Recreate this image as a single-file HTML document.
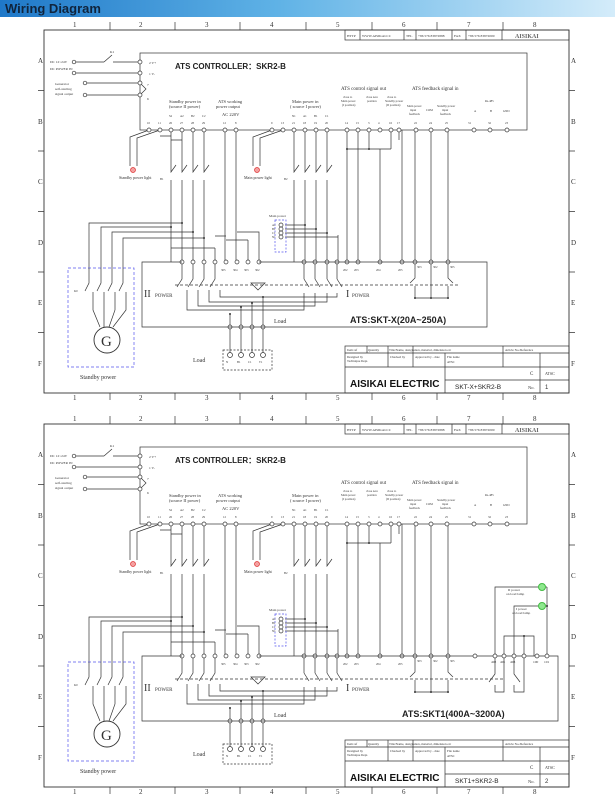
<!DOCTYPE html>
<html><head><meta charset="utf-8"><style>
html,body{margin:0;padding:0;background:#fff;width:615px;height:800px;overflow:hidden}
svg{display:block}
text{font-family:"Liberation Serif",serif;fill:#333}
.s{font-family:"Liberation Sans",sans-serif}
</style></head><body>
<svg width="615" height="800" viewBox="0 0 615 800" xmlns="http://www.w3.org/2000/svg">
<defs>
<linearGradient id="hg" x1="0" x2="1" y1="0" y2="0">
<stop offset="0" stop-color="#1f78c8"/><stop offset="0.45" stop-color="#5fb2e6"/><stop offset="1" stop-color="#d4ecfa"/>
</linearGradient>
<g id="base" fill="none" stroke="#333" stroke-width="0.7">
<rect x="44" y="30" width="525" height="363" stroke-width="0.9"/>
<path d="M110 22V30M175 22V30M240 22V30M306 22V30M372 22V30M437 22V30M503 22V30M110 393V400M175 393V400M240 393V400M306 393V400M372 393V400M437 393V400M503 393V400M38 90.5H44M38 151H44M38 211.5H44M38 272H44M38 332.5H44M569 90.5H575M569 151H575M569 211.5H575M569 272H575M569 332.5H575"/>
<rect x="345" y="30" width="224" height="10"/>
<path d="M360 30V40M404 30V40M416 30V40M452 30V40M466 30V40M502 30V40"/>
<rect x="140" y="53" width="387" height="77"/>
<path d="M76 62H104M104 62L112 55M113 62H140M76 73H140M86 83H140M86 95H140M140 83L146 89L140 95"/>
<g fill="#fff">
<circle cx="74" cy="62" r="1.8"/><circle cx="74" cy="73" r="1.8"/><circle cx="85" cy="83" r="1.8"/><circle cx="85" cy="95" r="1.8"/>
<circle cx="140" cy="62" r="2"/><circle cx="140" cy="73" r="2"/><circle cx="140" cy="83" r="2"/><circle cx="140" cy="95" r="2"/>
</g>
<path d="M149 130L130 137V166M160 130L137 138V166M272 130L253 137V166M283 130L260 138V166"/>
<path d="M171 130V172L176 165M171 180V262M182 130V172L187 165M182 180V262M193 130V172L198 165M193 180V262M204 130V172L209 165M204 180V262"/>
<path d="M171 140H182M171 136H160"/>
<path d="M89 268V223H182M101 268V227H171M112 268V232H193M123 268V238H204"/>
<path d="M215 248V262M171 248H215"/>
<path d="M225 130V262M236 130V262M226 236H215M237 232H259V262M248 240H226M248 240V262"/>
<path d="M294 130V172L299 165M294 180V262M305 130V172L310 165M305 180V262M316 130V172L321 165M316 180V262M327 130V172L332 165M327 180V262M338 235V262"/>
<path d="M285 225H305M285 229H316M285 233H327M285 237H338"/>
<path d="M347 130V262M358 130V262M369 130V149M347 149H391M391 130V149M380 149V262M402 130V262M415 130V262M431 130V262M448 130V262M399 130V140"/>
<path d="M182 262V279L177 287M187 290V310H304V293M193 262V279L188 287M198 290V306H315V293M204 262V279L199 287M209 290V302H327V293M215 262V279L210 287M220 290V297H337V293"/>
<path d="M304 262V279M315 262V279M327 262V279M337 262V279M304 279L309 287M315 279L320 287M327 279L332 287M337 279L342 287"/>
<path d="M175 285H460" stroke-dasharray="3 2"/>
<path d="M251 283H265L258 290Z"/>
<path d="M230 314V327M241 307V327M252 303V327M263 297V327M230 327V355M241 327V355M252 327V355M263 327V355"/>
<path d="M415 262V278L410 283M415 286V298M431 262V298M448 262V278L453 283M448 286V298M415 298H448"/>
<g fill="#fff">
<circle cx="149" cy="130" r="2"/><circle cx="160" cy="130" r="2"/><circle cx="171" cy="130" r="2"/><circle cx="182" cy="130" r="2"/><circle cx="193" cy="130" r="2"/><circle cx="204" cy="130" r="2"/><circle cx="225" cy="130" r="2"/><circle cx="236" cy="130" r="2"/><circle cx="272" cy="130" r="2"/><circle cx="283" cy="130" r="2"/><circle cx="294" cy="130" r="2"/><circle cx="305" cy="130" r="2"/><circle cx="316" cy="130" r="2"/><circle cx="327" cy="130" r="2"/><circle cx="347" cy="130" r="2"/><circle cx="358" cy="130" r="2"/><circle cx="369" cy="130" r="2"/><circle cx="380" cy="130" r="2"/><circle cx="391" cy="130" r="2"/><circle cx="399" cy="130" r="2"/><circle cx="416" cy="130" r="2"/><circle cx="431" cy="130" r="2"/><circle cx="447" cy="130" r="2"/><circle cx="474" cy="130" r="2"/><circle cx="490" cy="130" r="2"/><circle cx="507" cy="130" r="2"/>
<circle cx="182" cy="262" r="2"/><circle cx="193" cy="262" r="2"/><circle cx="204" cy="262" r="2"/><circle cx="215" cy="262" r="2"/><circle cx="226" cy="262" r="2"/><circle cx="237" cy="262" r="2"/><circle cx="248" cy="262" r="2"/><circle cx="259" cy="262" r="2"/><circle cx="304" cy="262" r="2"/><circle cx="315" cy="262" r="2"/><circle cx="327" cy="262" r="2"/><circle cx="337" cy="262" r="2"/><circle cx="347" cy="262" r="2"/><circle cx="358" cy="262" r="2"/><circle cx="380" cy="262" r="2"/><circle cx="402" cy="262" r="2"/><circle cx="415" cy="262" r="2"/><circle cx="431" cy="262" r="2"/><circle cx="448" cy="262" r="2"/>
<circle cx="230" cy="327" r="2"/><circle cx="241" cy="327" r="2"/><circle cx="252" cy="327" r="2"/><circle cx="263" cy="327" r="2"/>
<circle cx="230" cy="355" r="2.5"/><circle cx="241" cy="355" r="2.5"/><circle cx="252" cy="355" r="2.5"/><circle cx="263" cy="355" r="2.5"/>
<circle cx="281" cy="225" r="2"/><circle cx="281" cy="229" r="2"/><circle cx="281" cy="233" r="2"/><circle cx="281" cy="237" r="2"/>
</g>
<g fill="#333" stroke="none">
<circle cx="182" cy="223" r="1"/><circle cx="171" cy="227" r="1"/><circle cx="193" cy="232" r="1"/><circle cx="204" cy="238" r="1"/><circle cx="305" cy="225" r="1"/><circle cx="316" cy="229" r="1"/><circle cx="327" cy="233" r="1"/><circle cx="347" cy="149" r="1"/><circle cx="369" cy="149" r="1"/><circle cx="230" cy="314" r="1"/><circle cx="241" cy="307" r="1"/><circle cx="252" cy="303" r="1"/><circle cx="263" cy="297" r="1"/><circle cx="415" cy="298" r="1"/><circle cx="431" cy="298" r="1"/><circle cx="448" cy="298" r="1"/>
</g>
<circle cx="133" cy="170" r="2.5" fill="#f4a0a0" stroke="#d33"/>
<circle cx="257" cy="170" r="2.5" fill="#f4a0a0" stroke="#d33"/>
<rect x="275" y="220" width="11" height="32" stroke="#55e" stroke-dasharray="2 1.5"/>
<rect x="68" y="268" width="66" height="99" stroke="#55e" stroke-dasharray="3 2"/>
<path d="M89 268V283L85 291M93 292V310L100 327M101 268V283L97 291M104 292V310L104 327M112 268V283L108 291M115 292V310L109 327M123 268V283L119 291M126 292V310L113 327"/>
<circle cx="107" cy="340" r="13" stroke-width="0.9"/>
<rect x="223" y="350" width="49" height="20" stroke-dasharray="2 1.5"/>
<rect x="345" y="346" width="224" height="47"/>
<path d="M345 353H569M345 367H569M445 380H569M367 346V353M388 346V367M413 346V367M445 353V393M503 346V367M540 353V393"/>
</g>
</defs>

<rect x="0" y="0" width="615" height="17" fill="url(#hg)"/>
<text x="5" y="13" class="s" style="font-size:13px;font-weight:bold;fill:#10243c">Wiring Diagram</text>

<use href="#base"/>
<use href="#base" y="394"/>

<g fill="none" stroke="#333" stroke-width="0.7">
<path d="M259 262H487V327H142V262H182"/>
<path d="M259 656H558V721H142V656H182"/>
<path d="M495 656V587H538M514 656V606H538M547 656V587M546 587H547M546 606H547"/>
<path d="M504 656V636H534V656M524 636V656"/>
<path d="M495 656V674L489 682M495 685V692H504V656M514 656V674L520 682M514 685V692H524V656"/>
<path d="M460 679H505" stroke-dasharray="3 2"/>
</g>
<g fill="#fff" stroke="#333" stroke-width="0.7">
<circle cx="475" cy="656" r="2"/><circle cx="495" cy="656" r="2"/><circle cx="504" cy="656" r="2"/><circle cx="514" cy="656" r="2"/><circle cx="524" cy="656" r="2"/><circle cx="537" cy="656" r="2"/><circle cx="547" cy="656" r="2"/>
</g>
<circle cx="524" cy="636" r="1" fill="#333"/>
<circle cx="547" cy="606" r="1" fill="#333"/>
<circle cx="542" cy="587" r="3.5" fill="#8ee88e" stroke="#4b4"/>
<circle cx="542" cy="606" r="3.5" fill="#8ee88e" stroke="#4b4"/>

<g id="t1">
<g style="font-size:7px;fill:#222" class="s">
<text x="73" y="27">1</text><text x="139" y="27">2</text><text x="205" y="27">3</text><text x="270" y="27">4</text><text x="336" y="27">5</text><text x="402" y="27">6</text><text x="467" y="27">7</text><text x="533" y="27">8</text>
<text x="73" y="400">1</text><text x="139" y="400">2</text><text x="205" y="400">3</text><text x="270" y="400">4</text><text x="336" y="400">5</text><text x="402" y="400">6</text><text x="467" y="400">7</text><text x="533" y="400">8</text>
<text x="38" y="63">A</text><text x="38" y="124">B</text><text x="38" y="184">C</text><text x="38" y="245">D</text><text x="38" y="305">E</text><text x="38" y="366">F</text>
<text x="571" y="63">A</text><text x="571" y="124">B</text><text x="571" y="184">C</text><text x="571" y="245">D</text><text x="571" y="305">E</text><text x="571" y="366">F</text>
</g>
<g style="font-size:3.5px" class="s"><text x="347" y="37">HTTP</text><text x="362" y="37">WWW.AISIKAI.CC</text><text x="406" y="37">TEL</text><text x="418" y="37">+86 576 83872888</text><text x="454" y="37">FAX</text><text x="468" y="37">+86 576 83872000</text><text x="515" y="38" style="font-size:6px;font-weight:bold;fill:#666">AISIKAI</text></g>
<text x="175" y="69" class="s" style="font-size:8px;font-weight:bold;fill:#222">ATS CONTROLLER：SKR2-B</text>
<g style="font-size:3.5px"><text x="50" y="63">DC 12~24V</text><text x="50" y="70">DC POWER IN</text><text x="55" y="85">Generator</text><text x="55" y="90">self-starting</text><text x="55" y="95">signal output</text>
<text x="149" y="64">2 V+</text><text x="149" y="75">1 V-</text><text x="147" y="86">7</text><text x="147" y="100">6</text><text x="110" y="53">K1</text></g>
<g style="font-size:4.5px">
<text x="169" y="103">Standby power in</text><text x="169" y="108">(source II power)</text>
<text x="218" y="103">ATS working</text><text x="216" y="108">power output</text><text x="222" y="116">AC 220V</text>
<text x="292" y="103">Main power in</text><text x="290" y="108">( source I power)</text>
<text x="341" y="90" style="font-size:5px">ATS control signal out</text><text x="412" y="90" style="font-size:5px">ATS feedback signal in</text>
</g>
<g style="font-size:3px">
<text x="343" y="98">close to</text><text x="341" y="102">Main power</text><text x="342" y="106">(I position)</text>
<text x="366" y="98">close zero</text><text x="367" y="102">position</text>
<text x="387" y="98">close to</text><text x="385" y="102">Standby power</text><text x="386" y="106">(II position)</text>
<text x="407" y="107">Main power</text><text x="410" y="111">input</text><text x="409" y="115">feedback</text><text x="426" y="111">COM</text>
<text x="437" y="107">Standby power</text><text x="442" y="111">input</text><text x="440" y="115">feedback</text><text x="485" y="102">Rs-485</text>
<text x="474" y="112">A</text><text x="490" y="112">B</text><text x="503" y="112">GND</text>
<text x="147" y="124">10</text><text x="158" y="124">11</text><text x="169" y="124">26</text><text x="180" y="124">27</text><text x="191" y="124">28</text><text x="202" y="124">29</text><text x="223" y="124">12</text><text x="235" y="124">8</text><text x="271" y="124">9</text><text x="281" y="124">13</text><text x="292" y="124">21</text><text x="303" y="124">18</text><text x="314" y="124">19</text><text x="325" y="124">20</text><text x="345" y="124">14</text><text x="356" y="124">15</text><text x="368" y="124">3</text><text x="378" y="124">4</text><text x="389" y="124">16</text><text x="397" y="124">17</text><text x="414" y="124">22</text><text x="429" y="124">24</text><text x="445" y="124">25</text><text x="468" y="124">31</text><text x="488" y="124">32</text><text x="505" y="124">23</text>
<text x="169" y="117">S2</text><text x="180" y="117">A2</text><text x="191" y="117">B2</text><text x="202" y="117">C2</text><text x="292" y="117">N1</text><text x="303" y="117">A1</text><text x="314" y="117">B1</text><text x="325" y="117">C1</text>
<text x="221" y="271">305</text><text x="233" y="271">304</text><text x="244" y="271">303</text><text x="255" y="271">302</text><text x="343" y="271">202</text><text x="354" y="271">203</text><text x="376" y="271">204</text><text x="398" y="271">205</text><text x="417" y="268">303</text><text x="433" y="268">302</text><text x="450" y="268">305</text>
<text x="226" y="363">N</text><text x="237" y="363">B1</text><text x="248" y="363">C1</text><text x="259" y="363">T1</text>
<text x="272" y="226">A1</text><text x="272" y="230">B1</text><text x="272" y="234">C1</text><text x="272" y="238">N1</text><text x="160" y="180">B1</text><text x="284" y="180">B2</text><text x="74" y="292">K0</text>
</g>
<text x="119" y="179" style="font-size:4px">Standby power light</text>
<text x="244" y="179" style="font-size:4px">Main power light</text>
<text x="269" y="217" style="font-size:3.5px">Main power</text>
<text x="144" y="297" style="font-size:10px">II</text><text x="155" y="297" style="font-size:5px">POWER</text>
<text x="346" y="297" style="font-size:10px">I</text><text x="352" y="297" style="font-size:5px">POWER</text>
<text x="274" y="323" style="font-size:6px">Load</text>
<text x="193" y="362" style="font-size:6px">Load</text>
<text x="101" y="346" style="font-size:15px">G</text>
<text x="80" y="379" style="font-size:6px">Standby power</text>
<g class="s" style="font-size:3.2px"><text x="347" y="351">Item ref</text><text x="368" y="351">Quantity</text><text x="389" y="351">Title/Name, designation, material, dimension etc</text><text x="505" y="351">Article No./Reference</text>
<text x="347" y="358">Designed by</text><text x="347" y="362">Technique Dept.</text><text x="390" y="358">Checked by</text><text x="415" y="358">Approved by - date</text><text x="447" y="358">File name</text><text x="447" y="363">ATSC</text>
<text x="530" y="375" style="font-size:5px">C</text><text x="545" y="375" style="font-size:4px">ATSC</text><text x="528" y="389" style="font-size:4.5px">No.</text></g>
<text x="350" y="387" class="s" style="font-size:10px;font-weight:bold;fill:#111">AISIKAI ELECTRIC</text>
</g>
<use href="#t1" y="394"/>

<text x="350" y="323" class="s" style="font-size:9px;font-weight:bold;fill:#222">ATS:SKT-X(20A~250A)</text>
<text x="402" y="717" class="s" style="font-size:9px;font-weight:bold;fill:#222">ATS:SKT1(400A~3200A)</text>
<text x="455" y="389" class="s" style="font-size:6.5px;fill:#222">SKT-X+SKR2-B</text>
<text x="455" y="783" class="s" style="font-size:6.5px;fill:#222">SKT1+SKR2-B</text>
<text x="545" y="389" class="s" style="font-size:6px">1</text>
<text x="545" y="783" class="s" style="font-size:6px">2</text>
<g style="font-size:3.5px"><text x="508" y="591">II  power</text><text x="506" y="595">on load lamp</text><text x="516" y="610">I  power</text><text x="512" y="614">on load lamp</text>
<text x="491" y="663">402</text><text x="500" y="663">401</text><text x="510" y="663">403</text><text x="533" y="663">100</text><text x="544" y="663">101</text></g>
</svg>
</body></html>
